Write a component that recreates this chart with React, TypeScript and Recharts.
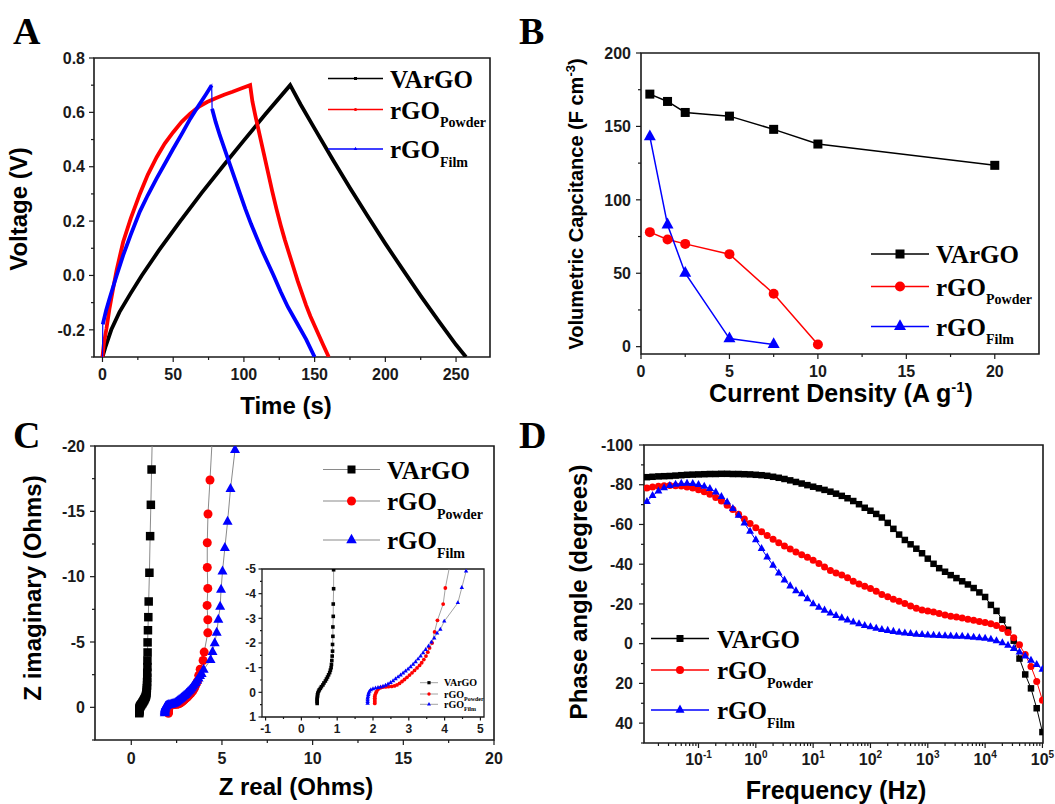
import React from "react";
import { ComposedChart, Line, XAxis, YAxis, ReferenceArea } from "recharts";

const W = 1055;
const H = 804;
const SANS = "'Liberation Sans', Arial, Helvetica, sans-serif";
const SERIF = "'Liberation Serif', 'Times New Roman', Times, serif";
const INK = "#1a1a1a";
const RED = "#ff0000";
const BLUE = "#0000ff";
const GREY = "#8a8a8a";

// ---------- A: charge / discharge curves, [time (s), voltage (V)]
const gcdVArGO: [number, number][] = [
  [0, -0.3], [2, -0.265], [6.2, -0.2], [12, -0.135], [20, -0.065], [27.8, 0.0], [40, 0.093],
  [55, 0.2], [70, 0.303], [86.4, 0.41], [100, 0.497], [115, 0.592], [132.7, 0.7],
  [140, 0.63], [150, 0.54], [163, 0.425], [175, 0.322], [187, 0.222], [200, 0.117], [212, 0.024],
  [225, -0.075], [238, -0.17], [250, -0.255], [257, -0.3],
];
const gcdPowder: [number, number][] = [
  [0, -0.3], [1, -0.25], [2.8, -0.196], [5, -0.12], [7.5, -0.049], [10, 0.02], [14.6, 0.123],
  [20, 0.21], [26.4, 0.3], [32, 0.37], [38.3, 0.435], [44, 0.485], [50, 0.527], [56, 0.565],
  [62, 0.595], [68, 0.62], [74, 0.638], [80, 0.652], [86, 0.665], [92, 0.676], [98, 0.688],
  [104.4, 0.7], [106, 0.64], [108, 0.59], [111, 0.52], [114, 0.45], [117, 0.38], [120, 0.31],
  [123, 0.245], [126, 0.185], [129, 0.13], [132, 0.08], [135, 0.03], [138, -0.02], [141, -0.065],
  [144, -0.11], [147, -0.15], [150, -0.185], [153, -0.22], [156, -0.255], [160, -0.3],
];
const gcdFilmStart: [number, number][] = [[0, -0.3]];
const gcdFilmCharge: [number, number][] = [
  [0.2, -0.18], [2.5, -0.13], [5, -0.085], [10, 0.0], [14.6, 0.074], [20, 0.15], [26.4, 0.235],
  [32, 0.295], [38.3, 0.357], [44, 0.41], [50, 0.466], [56, 0.52], [62, 0.576], [68, 0.625],
  [73, 0.665], [77.2, 0.7],
];
const gcdFilmDischarge: [number, number][] = [
  [77.5, 0.613], [80, 0.565], [83, 0.515], [85.5, 0.478], [90, 0.41], [94, 0.35], [97.3, 0.3],
  [101, 0.245], [105, 0.19], [109, 0.14], [113, 0.09], [117, 0.045], [121, 0.0], [126, -0.06],
  [131, -0.115], [137.5, -0.175], [144, -0.235], [150, -0.3],
];

// ---------- B: rate capability
const currentDensity = [0.5, 1.5, 2.5, 5, 7.5, 10, 20];
const capVArGO = [172, 167, 159.5, 157, 148, 138, 123.5];
const capPowder = [78, 73, 70, 63, 36, 1.5];
const capFilm = [143, 83, 50, 5.5, 1.5];

// ---------- C: Nyquist, [Z real, Z imaginary] (Ohms)
const eisVArGO: [number, number][] = [
  [0.44, 0.45], [0.44, 0.38], [0.44, 0.31], [0.44, 0.24], [0.45, 0.17], [0.45, 0.1], [0.46, 0.03],
  [0.48, -0.04], [0.5, -0.1], [0.53, -0.16], [0.56, -0.23], [0.6, -0.3], [0.63, -0.38], [0.67, -0.46],
  [0.7, -0.54], [0.73, -0.62], [0.76, -0.71], [0.79, -0.8], [0.81, -0.9], [0.83, -1.0], [0.84, -1.13],
  [0.85, -1.29], [0.86, -1.47], [0.87, -1.67], [0.87, -1.94], [0.88, -2.27], [0.88, -2.65],
  [0.89, -3.08], [0.89, -3.58], [0.9, -4.2], [0.9, -4.97], [0.92, -5.9], [0.94, -6.9], [0.96, -8.1],
  [1.0, -10.3], [1.04, -13.1], [1.08, -15.5], [1.12, -18.2], [1.17, -21.5],
];
const eisPowder: [number, number][] = [
  [2.05, 0.45], [2.05, 0.38], [2.05, 0.31], [2.05, 0.24], [2.05, 0.17], [2.06, 0.1], [2.08, 0.03],
  [2.1, -0.03], [2.14, -0.12], [2.2, -0.18], [2.27, -0.21], [2.35, -0.22], [2.43, -0.23], [2.52, -0.24],
  [2.6, -0.26], [2.67, -0.3], [2.74, -0.36], [2.81, -0.44], [2.88, -0.52], [2.95, -0.61], [3.02, -0.7],
  [3.09, -0.79], [3.16, -0.89], [3.23, -0.99], [3.3, -1.09], [3.36, -1.2], [3.42, -1.33], [3.48, -1.47],
  [3.53, -1.63], [3.58, -1.8], [3.65, -2.0], [3.72, -2.45], [3.8, -2.92], [3.96, -3.58], [4.02, -4.23],
  [4.22, -5.7], [4.22, -6.7], [4.18, -7.8], [4.22, -9.1], [4.19, -10.7], [4.19, -12.6], [4.23, -14.8],
  [4.34, -17.4], [4.5, -21.5],
];
const eisFilm: [number, number][] = [
  [1.85, 0.45], [1.85, 0.38], [1.85, 0.31], [1.85, 0.24], [1.86, 0.17], [1.87, 0.1], [1.88, 0.03],
  [1.9, -0.04], [1.94, -0.1], [2.0, -0.14], [2.07, -0.17], [2.14, -0.19], [2.21, -0.21], [2.28, -0.24],
  [2.35, -0.28], [2.42, -0.33], [2.49, -0.39], [2.56, -0.46], [2.63, -0.54], [2.7, -0.62], [2.77, -0.7],
  [2.84, -0.78], [2.91, -0.86], [2.98, -0.94], [3.05, -1.03], [3.12, -1.13], [3.19, -1.23], [3.26, -1.35],
  [3.33, -1.47], [3.4, -1.6], [3.47, -1.73], [3.55, -1.87], [3.63, -2.03], [3.71, -2.2], [3.79, -2.4],
  [3.88, -2.55], [3.99, -2.88], [4.37, -3.63], [4.48, -4.24], [4.6, -4.91], [4.71, -5.7], [4.8, -6.7],
  [4.9, -7.7], [4.95, -9.0], [5.03, -10.4], [5.16, -12.2], [5.31, -14.2], [5.47, -16.7], [5.72, -19.7],
];

// ---------- D: Bode phase
const freqHz = [
  0.0126, 0.0158, 0.02, 0.0251, 0.0316, 0.0398, 0.0501, 0.0631, 0.0794,
  0.1, 0.126, 0.158, 0.2, 0.251, 0.316, 0.398, 0.501, 0.631, 0.794,
  1, 1.26, 1.58, 2, 2.51, 3.16, 3.98, 5.01, 6.31, 7.94,
  10, 12.6, 15.8, 20, 25.1, 31.6, 39.8, 50.1, 63.1, 79.4,
  100, 126, 158, 200, 251, 316, 398, 501, 631, 794,
  1000, 1260, 1580, 2000, 2510, 3160, 3980, 5010, 6310, 7940,
  10000, 12600, 15800, 20000, 25100, 31600, 39800, 50100, 63100, 79400,
  100000,
];
const phaseVArGO = [
  -83.8, -84.0, -84.2, -84.3, -84.4, -84.6, -84.8, -85.0, -85.1,
  -85.2, -85.3, -85.4, -85.4, -85.5, -85.5, -85.4, -85.4, -85.3, -85.2,
  -85.0, -84.8, -84.5, -84.0, -83.5, -82.9, -82.2, -81.4, -80.6, -79.8,
  -79.0, -78.2, -77.4, -76.5, -75.5, -74.4, -73.2, -71.8, -70.2, -68.4,
  -66.9, -65.3, -63.5, -60.8, -57.8, -54.9, -52.2, -50.0, -47.8, -45.5,
  -42.8, -40.2, -38.0, -36.2, -34.5, -33.0, -31.4, -29.8, -28.0, -25.8,
  -23.5, -19.5, -16.5, -12.0, -7.0, -1.5, 7.5, 15.5, 22.5, 32.5,
  44.5,
];
const phasePowder = [
  -78.3, -78.8, -79.2, -79.5, -79.6, -79.5, -79.3, -78.9, -78.3,
  -77.5, -76.5, -75.2, -73.6, -71.8, -69.7, -67.5, -65.2, -62.8, -60.5,
  -58.3, -56.3, -54.4, -52.5, -50.8, -49.2, -47.7, -46.2, -44.8, -43.5,
  -42.0, -40.4, -38.6, -36.8, -35.6, -34.6, -33.2, -31.4, -30.0, -28.9,
  -27.8, -26.4, -24.8, -23.6, -22.4, -21.4, -20.2, -19.0, -17.8, -17.0,
  -16.4, -15.9, -15.2, -14.4, -13.8, -13.4, -12.9, -12.3, -11.8, -11.2,
  -10.7, -10.0, -9.2, -7.6, -5.6, -3.0, 0.6, 5.5, 11.5, 19.0,
  28.5,
];
const phaseFilm = [
  -71.5, -74.5, -76.8, -78.4, -79.5, -80.2, -80.6, -80.7, -80.5,
  -80.0, -79.2, -78.0, -76.3, -74.0, -71.2, -68.0, -64.5, -60.6, -56.5,
  -52.2, -47.8, -43.5, -39.4, -35.5, -32.0, -29.0, -26.5, -25.0, -22.5,
  -20.0, -18.3, -16.8, -15.4, -14.1, -12.9, -11.8, -10.8, -9.9, -9.1,
  -8.4, -7.7, -7.1, -6.6, -6.1, -5.7, -5.3, -5.0, -4.7, -4.5,
  -4.3, -4.1, -4.0, -3.9, -3.8, -3.7, -3.6, -3.4, -3.2, -2.9,
  -2.6, -2.1, -1.4, -0.4, 0.9, 2.5, 4.3, 6.3, 8.4, 10.6,
  13.0,
];

// ---------- tick lists
const aTicksX = [0, 25, 50, 75, 100, 125, 150, 175, 200, 225, 250];
const aMajorX = [0, 50, 100, 150, 200, 250];
const aTicksY = [-0.3, -0.2, -0.1, 0, 0.1, 0.2, 0.3, 0.4, 0.5, 0.6, 0.7, 0.8];
const aMajorY = [-0.2, 0, 0.2, 0.4, 0.6, 0.8];
const bTicksX = [0, 2.5, 5, 7.5, 10, 12.5, 15, 17.5, 20];
const bMajorX = [0, 5, 10, 15, 20];
const bTicksY = [0, 25, 50, 75, 100, 125, 150, 175, 200];
const bMajorY = [0, 50, 100, 150, 200];
const cTicksX = [0, 2.5, 5, 7.5, 10, 12.5, 15, 17.5, 20];
const cMajorX = [0, 5, 10, 15, 20];
const cTicksY = [-20, -17.5, -15, -12.5, -10, -7.5, -5, -2.5, 0, 2.5];
const cMajorY = [-20, -15, -10, -5, 0];
const insetTicksX = [-1, -0.5, 0, 0.5, 1, 1.5, 2, 2.5, 3, 3.5, 4, 4.5, 5];
const insetMajorX = [-1, 0, 1, 2, 3, 4, 5];
const insetTicksY = [-5, -4.5, -4, -3.5, -3, -2.5, -2, -1.5, -1, -0.5, 0, 0.5, 1];
const insetMajorY = [-5, -4, -3, -2, -1, 0, 1];
const dMajorX = [0.1, 1, 10, 100, 1000, 10000, 100000];
const dMinorX: number[] = [];
[0.01, 0.1, 1, 10, 100, 1000, 10000].forEach((d) => {
  for (let m = 2; m <= 9; m++) if (m * d > 0.0112) dMinorX.push(+(m * d).toPrecision(3));
});
const dTicksX = [...dMajorX, ...dMinorX].sort((a, b) => a - b);
const dTicksY = [-100, -90, -80, -70, -60, -50, -40, -30, -20, -10, 0, 10, 20, 30, 40, 50];
const dMajorY = [-100, -80, -60, -40, -20, 0, 20, 40];

const pts = (a: [number, number][]) => a.map(([x, y]) => ({ x, y }));
const zip = (xs: number[], ys: number[]) => ys.map((y, i) => ({ x: xs[i], y }));

type Kind = "square" | "circle" | "triangle";
type Box = { x0: number; y0: number; x1: number; y1: number };

const YW = 40;
const XH = 30;
const marginFor = (b: Box) => ({ top: b.y0, left: b.x0 - YW, right: W - b.x1, bottom: H - b.y1 - XH });
const layer: React.CSSProperties = { position: "absolute", left: 0, top: 0 };

const near = (a: number, b: number) => Math.abs(a - b) <= 1e-6 * Math.max(1, Math.abs(a), Math.abs(b));

function Mark({ kind, cx, cy, s, fill }: { kind: Kind; cx?: number; cy?: number; s: number; fill: string }) {
  if (cx == null || cy == null || Number.isNaN(cx) || Number.isNaN(cy)) return <g />;
  if (kind === "square") return <rect x={cx - s / 2} y={cy - s / 2} width={s} height={s} fill={fill} />;
  if (kind === "circle") return <circle cx={cx} cy={cy} r={s / 2} fill={fill} />;
  const h = s * 0.9;
  return <path d={`M${cx},${cy - (2 * h) / 3}L${cx + s / 2},${cy + h / 3}L${cx - s / 2},${cy + h / 3}Z`} fill={fill} />;
}

const dotOf = (kind: Kind, s: number, fill: string) => (p: any) =>
  <Mark key={`d${p.index}`} kind={kind} cx={p.cx} cy={p.cy} s={s} fill={fill} />;

type Fmt = (v: number) => React.ReactNode;

function bottomTick(major: number[], fmt: Fmt, fs: number, off: number, len: [number, number]) {
  return (p: any) => {
    const v = p.payload.value;
    const isMajor = major.some((m) => near(m, v));
    return (
      <g key={`bt${v}`}>
        <line x1={p.x} x2={p.x} y1={p.y} y2={p.y + (isMajor ? len[0] : len[1])} stroke={INK} strokeWidth={1.2} />
        {isMajor && (
          <text x={p.x} y={p.y + off} textAnchor="middle" fontFamily={SANS} fontWeight={700} fontSize={fs} fill={INK}>
            {fmt(v)}
          </text>
        )}
      </g>
    );
  };
}

function leftTick(major: number[], fmt: Fmt, fs: number, gap: number, len: [number, number]) {
  return (p: any) => {
    const v = p.payload.value;
    const isMajor = major.some((m) => near(m, v));
    return (
      <g key={`lt${v}`}>
        <line x1={p.x - (isMajor ? len[0] : len[1])} x2={p.x} y1={p.y} y2={p.y} stroke={INK} strokeWidth={1.2} />
        {isMajor && (
          <text x={p.x - gap} y={p.y + fs * 0.36} textAnchor="end" fontFamily={SANS} fontWeight={700} fontSize={fs} fill={INK}>
            {fmt(v)}
          </text>
        )}
      </g>
    );
  };
}

const plain: Fmt = (v) => String(v);
const oneDec: Fmt = (v) => v.toFixed(1);
const pow10: Fmt = (v) => (
  <>
    <tspan>10</tspan>
    <tspan dy={-7} fontSize={10}>{String(Math.round(Math.log10(v)))}</tspan>
  </>
);

function frame(xd: [number, number], yd: [number, number], w = 1.6) {
  return (
    <ReferenceArea x1={xd[0]} x2={xd[1]} y1={yd[0]} y2={yd[1]} fill="none" stroke={INK} strokeWidth={w} ifOverflow="visible" />
  );
}

// ---------- panel A
const boxA: Box = { x0: 94, y0: 58, x1: 490, y1: 357 };
const domA_x: [number, number] = [-6, 274];
const domA_y: [number, number] = [-0.3, 0.8];

function PanelA() {
  return (
    <div style={layer}>
      <ComposedChart width={W} height={H} margin={marginFor(boxA)}>
        <XAxis type="number" dataKey="x" domain={domA_x} allowDataOverflow ticks={aTicksX} interval={0} height={XH}
          axisLine={false} tickLine={false} tickSize={0} tickMargin={0} tick={bottomTick(aMajorX, plain, 16, 23, [5, 3])} />
        <YAxis type="number" domain={domA_y} allowDataOverflow ticks={aTicksY} interval={0} width={YW}
          axisLine={false} tickLine={false} tickSize={0} tickMargin={0} tick={leftTick(aMajorY, oneDec, 16, 9, [5, 3])} />
        {frame(domA_x, domA_y)}
        <Line data={pts(gcdVArGO)} dataKey="y" stroke="#000" strokeWidth={3.8} dot={false} activeDot={false} isAnimationActive={false} />
        <Line data={pts(gcdPowder)} dataKey="y" stroke={RED} strokeWidth={3.8} dot={false} activeDot={false} isAnimationActive={false} />
        <Line data={pts([...gcdFilmStart, ...gcdFilmCharge, ...gcdFilmDischarge])} dataKey="y" stroke={BLUE} strokeWidth={1.2} dot={false} activeDot={false} isAnimationActive={false} />
        <Line data={pts(gcdFilmCharge)} dataKey="y" stroke={BLUE} strokeWidth={3.8} dot={false} activeDot={false} isAnimationActive={false} />
        <Line data={pts(gcdFilmDischarge)} dataKey="y" stroke={BLUE} strokeWidth={3.8} dot={false} activeDot={false} isAnimationActive={false} />
      </ComposedChart>
    </div>
  );
}

// ---------- panel B
const boxB: Box = { x0: 641, y0: 53, x1: 1039, y1: 354 };
const domB_x: [number, number] = [0, 22.5];
const domB_y: [number, number] = [-5, 200];

function PanelB() {
  return (
    <div style={layer}>
      <ComposedChart width={W} height={H} margin={marginFor(boxB)}>
        <XAxis type="number" dataKey="x" domain={domB_x} allowDataOverflow ticks={bTicksX} interval={0} height={XH}
          axisLine={false} tickLine={false} tickSize={0} tickMargin={0} tick={bottomTick(bMajorX, plain, 16, 23, [5, 3])} />
        <YAxis type="number" domain={domB_y} allowDataOverflow ticks={bTicksY} interval={0} width={YW}
          axisLine={false} tickLine={false} tickSize={0} tickMargin={0} tick={leftTick(bMajorY, plain, 16, 10, [5, 3])} />
        {frame(domB_x, domB_y)}
        <Line data={zip(currentDensity, capVArGO)} dataKey="y" stroke="#000" strokeWidth={1.5} dot={dotOf("square", 9, "#000")} activeDot={false} isAnimationActive={false} />
        <Line data={zip(currentDensity, capPowder)} dataKey="y" stroke={RED} strokeWidth={1.5} dot={dotOf("circle", 10, RED)} activeDot={false} isAnimationActive={false} />
        <Line data={zip(currentDensity, capFilm)} dataKey="y" stroke={BLUE} strokeWidth={1.5} dot={dotOf("triangle", 12, BLUE)} activeDot={false} isAnimationActive={false} />
      </ComposedChart>
    </div>
  );
}

// ---------- panel C (+ inset)
const boxC: Box = { x0: 95, y0: 446, x1: 494, y1: 740 };
const domC_x: [number, number] = [-2, 20];
const domC_y: [number, number] = [-20, 2.5];
const boxIn: Box = { x0: 262, y0: 569, x1: 484, y1: 717 };
const domIn_x: [number, number] = [-1.1, 5.1];
const domIn_y: [number, number] = [-5, 1];

function PanelC() {
  return (
    <div style={layer}>
      <ComposedChart width={W} height={H} margin={marginFor(boxC)}>
        <XAxis type="number" dataKey="x" domain={domC_x} allowDataOverflow ticks={cTicksX} interval={0} height={XH}
          axisLine={false} tickLine={false} tickSize={0} tickMargin={0} tick={bottomTick(cMajorX, plain, 16, 24, [5, 3])} />
        <YAxis type="number" domain={domC_y} reversed allowDataOverflow ticks={cTicksY} interval={0} width={YW}
          axisLine={false} tickLine={false} tickSize={0} tickMargin={0} tick={leftTick(cMajorY, plain, 16, 10, [5, 3])} />
        {frame(domC_x, domC_y)}
        <Line data={pts(eisVArGO)} dataKey="y" stroke={GREY} strokeWidth={1} dot={dotOf("square", 8.5, "#000")} activeDot={false} isAnimationActive={false} />
        <Line data={pts(eisPowder)} dataKey="y" stroke={GREY} strokeWidth={1} dot={dotOf("circle", 9, RED)} activeDot={false} isAnimationActive={false} />
        <Line data={pts(eisFilm)} dataKey="y" stroke={GREY} strokeWidth={1} dot={dotOf("triangle", 10, BLUE)} activeDot={false} isAnimationActive={false} />
      </ComposedChart>
    </div>
  );
}

function PanelCInset() {
  return (
    <div style={layer}>
      <ComposedChart width={W} height={H} margin={marginFor(boxIn)}>
        <XAxis type="number" dataKey="x" domain={domIn_x} allowDataOverflow ticks={insetTicksX} interval={0} height={XH}
          axisLine={false} tickLine={false} tickSize={0} tickMargin={0} tick={bottomTick(insetMajorX, plain, 12, 15.5, [3.5, 2])} />
        <YAxis type="number" domain={domIn_y} reversed allowDataOverflow ticks={insetTicksY} interval={0} width={YW}
          axisLine={false} tickLine={false} tickSize={0} tickMargin={0} tick={leftTick(insetMajorY, plain, 12, 6, [3.5, 2])} />
        {frame(domIn_x, domIn_y, 1.3)}
        <Line data={pts(eisVArGO)} dataKey="y" stroke={GREY} strokeWidth={0.8} dot={dotOf("square", 3.6, "#000")} activeDot={false} isAnimationActive={false} />
        <Line data={pts(eisPowder)} dataKey="y" stroke={GREY} strokeWidth={0.8} dot={dotOf("circle", 3.8, RED)} activeDot={false} isAnimationActive={false} />
        <Line data={pts(eisFilm)} dataKey="y" stroke={GREY} strokeWidth={0.8} dot={dotOf("triangle", 4.4, BLUE)} activeDot={false} isAnimationActive={false} />
      </ComposedChart>
    </div>
  );
}

// ---------- panel D
const boxD: Box = { x0: 644, y0: 445, x1: 1043, y1: 743 };
const domD_x: [number, number] = [0.0112, 102300];
const domD_y: [number, number] = [-100, 50];

function PanelD() {
  return (
    <div style={layer}>
      <ComposedChart width={W} height={H} margin={marginFor(boxD)}>
        <XAxis type="number" dataKey="x" scale="log" domain={domD_x} allowDataOverflow ticks={dTicksX} interval={0} height={XH}
          axisLine={false} tickLine={false} tickSize={0} tickMargin={0} tick={bottomTick(dMajorX, pow10, 16, 22, [5, 3])} />
        <YAxis type="number" domain={domD_y} reversed allowDataOverflow ticks={dTicksY} interval={0} width={YW}
          axisLine={false} tickLine={false} tickSize={0} tickMargin={0} tick={leftTick(dMajorY, plain, 16, 11, [5, 3])} />
        {frame(domD_x, domD_y)}
        <Line data={zip(freqHz, phaseVArGO)} dataKey="y" stroke="#000" strokeWidth={1} dot={dotOf("square", 6.5, "#000")} activeDot={false} isAnimationActive={false} />
        <Line data={zip(freqHz, phasePowder)} dataKey="y" stroke={RED} strokeWidth={1} dot={dotOf("circle", 7, RED)} activeDot={false} isAnimationActive={false} />
        <Line data={zip(freqHz, phaseFilm)} dataKey="y" stroke={BLUE} strokeWidth={1} dot={dotOf("triangle", 7.8, BLUE)} activeDot={false} isAnimationActive={false} />
      </ComposedChart>
    </div>
  );
}

// ---------- legends, titles, letters
type LegendRow = { main: string; sub?: string; kind: Kind; fill: string; line: string };
const legendRows: LegendRow[] = [
  { main: "VArGO", kind: "square", fill: "#000", line: "#000" },
  { main: "rGO", sub: "Powder", kind: "circle", fill: RED, line: RED },
  { main: "rGO", sub: "Film", kind: "triangle", fill: BLUE, line: BLUE },
];

function Legend({ x1, x2, tx, ys, fs, subFs, marks, lw, grey }: {
  x1: number; x2: number; tx: number; ys: number[]; fs: number; subFs: number; marks: number[]; lw: number; grey?: boolean;
}) {
  return (
    <g>
      {legendRows.map((r, i) => (
        <g key={i}>
          <line x1={x1} x2={x2} y1={ys[i]} y2={ys[i]} stroke={grey ? GREY : r.line} strokeWidth={lw} />
          <Mark kind={r.kind} cx={(x1 + x2) / 2} cy={ys[i]} s={marks[i]} fill={r.fill} />
          <text x={tx} y={ys[i] + fs * 0.36} fontFamily={SERIF} fontWeight={700} fontSize={fs} fill="#000">
            {r.main}
            {r.sub && <tspan fontSize={subFs} dy={fs * 0.34}>{r.sub}</tspan>}
          </text>
        </g>
      ))}
    </g>
  );
}

const titleStyle = { fontFamily: SANS, fontWeight: 700, fill: "#000" } as const;

function VTitle({ x, y, fs, children }: { x: number; y: number; fs: number; children: React.ReactNode }) {
  return (
    <text transform={`translate(${x},${y}) rotate(-90)`} textAnchor="middle" fontSize={fs} {...titleStyle}>
      {children}
    </text>
  );
}

function Overlay() {
  const letter = { fontFamily: SERIF, fontWeight: 700, fontSize: 38, fill: "#000" } as const;
  return (
    <svg width={W} height={H} style={{ ...layer, pointerEvents: "none" }}>
      <text x={13} y={43.5} {...letter}>A</text>
      <text x={519} y={43.5} {...letter}>B</text>
      <text x={13} y={448} {...letter}>C</text>
      <text x={519} y={448} {...letter}>D</text>

      <VTitle x={27} y={209} fs={24}>Voltage (V)</VTitle>
      <text x={286} y={414} textAnchor="middle" fontSize={24} {...titleStyle}>Time (s)</text>

      <VTitle x={583} y={204} fs={20}>
        Volumetric Capcitance (F cm<tspan dy={-8} fontSize={13}>-3</tspan><tspan dy={8}>)</tspan>
      </VTitle>
      <text x={841} y={402} textAnchor="middle" fontSize={25} {...titleStyle}>
        Current Density (A g<tspan dy={-10} fontSize={15}>-1</tspan><tspan dy={10}>)</tspan>
      </text>

      <VTitle x={41} y={588} fs={24}>Z imaginary (Ohms)</VTitle>
      <text x={296} y={795} textAnchor="middle" fontSize={24} {...titleStyle}>Z real (Ohms)</text>

      <VTitle x={587} y={592} fs={24}>Phase angle (degrees)</VTitle>
      <text x={836} y={799} textAnchor="middle" fontSize={25} {...titleStyle}>Frequency (Hz)</text>

      <Legend x1={328} x2={383} tx={390} ys={[78.5, 109.5, 149]} fs={25} subFs={14} marks={[3, 3.2, 3.6]} lw={1.6} />
      <Legend x1={871} x2={929} tx={936} ys={[254, 286.5, 326.5]} fs={25} subFs={14} marks={[9, 10, 12]} lw={1.5} />
      <Legend x1={323} x2={380} tx={387} ys={[469.5, 501, 540]} fs={25} subFs={14} marks={[8, 9, 10.5]} lw={1.2} grey />
      <Legend x1={651} x2={709} tx={717} ys={[638.5, 670, 710]} fs={25} subFs={14} marks={[7, 8, 9]} lw={1.4} />
      <Legend x1={420} x2={438} tx={444} ys={[682.7, 694, 704.3]} fs={10} subFs={6} marks={[3.2, 3.4, 4]} lw={0.8} grey />
    </svg>
  );
}

export default function App() {
  return (
    <div style={{ position: "absolute", left: 0, top: 0, width: W, height: H, background: "#fff", overflow: "hidden" }}>
      <PanelA />
      <PanelB />
      <PanelC />
      <PanelCInset />
      <PanelD />
      <Overlay />
    </div>
  );
}
